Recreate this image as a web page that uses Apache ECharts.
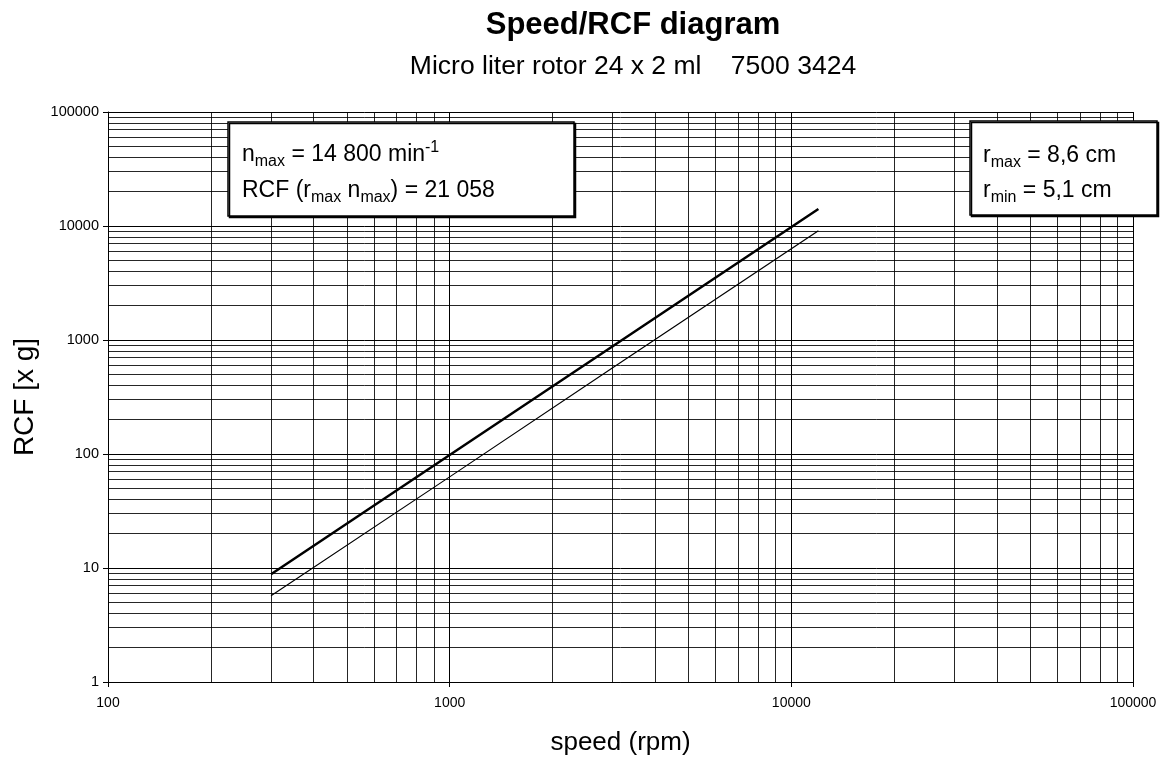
<!DOCTYPE html>
<html>
<head>
<meta charset="utf-8">
<script src="https://cdn.jsdelivr.net/npm/echarts@6/dist/echarts.min.js"></script>
<style>
html,body{margin:0;padding:0;background:#fff;overflow:hidden;}
#chart{width:1161px;height:761px;}
</style>
</head>
<body>
<div id="chart"></div>
<script>
// ---- data ----
const titleText = 'Speed/RCF diagram';
const subtitleText = 'Micro liter rotor 24 x 2 ml    7500 3424';
const xAxisName = 'speed (rpm)';
const yAxisName = 'RCF [x g]';

const speed = [300, 1000, 3000, 12000];          // rpm
const rcfAtRmax = [8.8, 98, 880, 14100];          // thick line, r = 8.6 cm
const rcfAtRmin = [5.7, 63, 570, 9100];           // thin line, r = 5.1 cm

const speedMajorTicks = [100, 1000, 10000, 100000];
const rcfMajorTicks = [1, 10, 100, 1000, 10000, 100000];
const speedMinorTicks = [200, 300, 400, 500, 600, 700, 800, 900,
  2000, 3000, 4000, 5000, 6000, 7000, 8000, 9000,
  20000, 30000, 40000, 50000, 60000, 70000, 80000, 90000];
const rcfMinorTicks = [2, 3, 4, 5, 6, 7, 8, 9,
  20, 30, 40, 50, 60, 70, 80, 90,
  200, 300, 400, 500, 600, 700, 800, 900,
  2000, 3000, 4000, 5000, 6000, 7000, 8000, 9000,
  20000, 30000, 40000, 50000, 60000, 70000, 80000, 90000];

const box1Lines = [
  '{m|n}{s|max}{m| = 14 800 min}{p|-1}',
  '{m|RCF (r}{s|max}{m| n}{s|max}{m|) = 21 058}'
];
const box2Lines = [
  '{m|r}{s|max}{m| = 8,6 cm}',
  '{m|r}{s|min}{m| = 5,1 cm}'
];

// ---- chart ----
const FONT = 'Liberation Sans, Arial, Helvetica, sans-serif';
const chart = echarts.init(document.getElementById('chart'), null, {renderer: 'canvas', width: 1161, height: 761});

const rich = {
  m: {fontFamily: FONT, fontSize: 23, color: '#000', lineHeight: 30, verticalAlign: 'middle'},
  s: {fontFamily: FONT, fontSize: 16, color: '#000', lineHeight: 20, verticalAlign: 'bottom'},
  p: {fontFamily: FONT, fontSize: 16, color: '#000', lineHeight: 16, verticalAlign: 'top'}
};

function fmt(v) { return String(Math.round(v)); }

const option = {
  backgroundColor: '#fff',
  animation: false,
  title: [
    {text: titleText, left: 628, top: 5, textAlign: 'center',
     textStyle: {fontFamily: FONT, fontSize: 31, fontWeight: 'bold', color: '#000'}},
    {text: subtitleText, left: 628, top: 48, textAlign: 'center',
     textStyle: {fontFamily: FONT, fontSize: 26.5, fontWeight: 'normal', color: '#000'}}
  ],
  grid: {left: 108, top: 112, width: 1025, height: 574, containLabel: false},
  xAxis: {
    type: 'log', logBase: 10, min: speedMajorTicks[0], max: speedMajorTicks[speedMajorTicks.length - 1],
    splitNumber: speedMajorTicks.length - 1,
    name: xAxisName, nameLocation: 'middle', nameGap: 48,
    nameTextStyle: {fontFamily: FONT, fontSize: 26, color: '#000', verticalAlign: 'top'},
    axisLine: {show: true, onZero: false, lineStyle: {color: '#000', width: 1}},
    axisTick: {show: true, inside: false, length: 5, lineStyle: {color: '#000'}},
    axisLabel: {fontFamily: FONT, fontSize: 14, color: '#000', margin: 14, formatter: fmt},
    splitLine: {show: true, lineStyle: {color: '#000', width: 1}},
    minorTick: {show: false}, minorSplitLine: {show: false}
  },
  yAxis: {
    type: 'log', logBase: 10, min: rcfMajorTicks[0], max: rcfMajorTicks[rcfMajorTicks.length - 1],
    splitNumber: rcfMajorTicks.length - 1,
    name: yAxisName, nameLocation: 'middle', nameGap: 51,
    nameTextStyle: {fontFamily: FONT, fontSize: 28, color: '#000'},
    axisLine: {show: true, onZero: false, lineStyle: {color: '#000', width: 1}},
    axisTick: {show: true, inside: false, length: 5, lineStyle: {color: '#000'}},
    axisLabel: {fontFamily: FONT, fontSize: 14.5, color: '#000', margin: 9, formatter: fmt},
    splitLine: {show: true, lineStyle: {color: '#000', width: 1}},
    minorTick: {show: false}, minorSplitLine: {show: false}
  },
  series: [
    {
      name: 'minor grid', type: 'line', data: [], z: 1, silent: true,
      markLine: {
        silent: true, symbol: ['none', 'none'], animation: false,
        label: {show: false},
        lineStyle: {color: '#000', width: 1, type: 'solid', opacity: 0.85},
        emphasis: {disabled: true},
        data: speedMinorTicks.map(v => ({xAxis: v})).concat(rcfMinorTicks.map(v => ({yAxis: v})))
      }
    },
    {
      name: 'r max', type: 'line', z: 5, symbol: 'none', silent: true,
      lineStyle: {color: '#000', width: 2.5},
      data: speed.map((s, i) => [s, rcfAtRmax[i]])
    },
    {
      name: 'r min', type: 'line', z: 5, symbol: 'none', silent: true,
      lineStyle: {color: '#000', width: 1.2},
      data: speed.map((s, i) => [s, rcfAtRmin[i]])
    }
  ],
  graphic: [
    {type: 'rect', z: 100, shape: {x: 228, y: 122, width: 346, height: 94},
     style: {fill: '#fff', stroke: '#000', lineWidth: 1.5, shadowColor: '#000', shadowOffsetX: 1.5, shadowOffsetY: 1.5, shadowBlur: 0}},
    {type: 'text', z: 101, x: 242, y: 140, style: {text: box1Lines[0], rich: rich, verticalAlign: 'top'}},
    {type: 'text', z: 101, x: 242, y: 176, style: {text: box1Lines[1], rich: rich, verticalAlign: 'top'}},
    {type: 'rect', z: 100, shape: {x: 970, y: 121, width: 187, height: 94},
     style: {fill: '#fff', stroke: '#000', lineWidth: 1.5, shadowColor: '#000', shadowOffsetX: 1.5, shadowOffsetY: 1.5, shadowBlur: 0}},
    {type: 'text', z: 101, x: 983, y: 141, style: {text: box2Lines[0], rich: rich, verticalAlign: 'top'}},
    {type: 'text', z: 101, x: 983, y: 176, style: {text: box2Lines[1], rich: rich, verticalAlign: 'top'}}
  ]
};
chart.setOption(option);
</script>
</body>
</html>
